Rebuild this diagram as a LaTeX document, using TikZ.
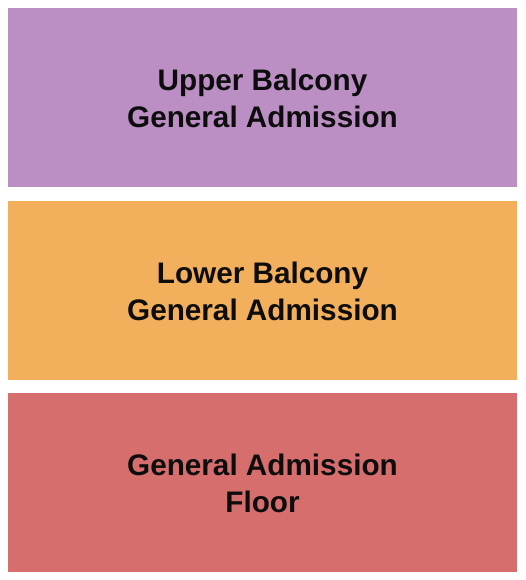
\documentclass[tikz,border=0pt]{standalone}
\usepackage{fontspec}
\setmainfont{Liberation Sans}
\definecolor{upc}{HTML}{BB8FC4}
\definecolor{loc}{HTML}{F2AF5C}
\definecolor{flc}{HTML}{D76E6E}
\definecolor{txt}{HTML}{0D0D0D}
\begin{document}
\begin{tikzpicture}[x=1pt,y=-1pt,
  sect/.style={draw=none,inner sep=0pt,minimum width=509pt,minimum height=179pt,
    align=center,text=txt,font=\bfseries\fontsize{29.7}{37}\selectfont}]
\useasboundingbox (0,0) rectangle (525,580);
\node[sect,fill=upc] (upper) at (262.5,97.5) {};
\node[sect,fill=loc] (lower) at (262.5,290) {};
\node[sect,fill=flc] (floor) at (262.5,482.5) {};
\node[sect,minimum height=0pt] (uppert) at (262.5,98.5) {Upper Balcony\\General Admission};
\node[sect,minimum height=0pt] (lowert) at (262.5,291) {Lower Balcony\\General Admission};
\node[sect,minimum height=0pt] (floort) at (262.5,483.5) {General Admission\\Floor};
\end{tikzpicture}
\end{document}
